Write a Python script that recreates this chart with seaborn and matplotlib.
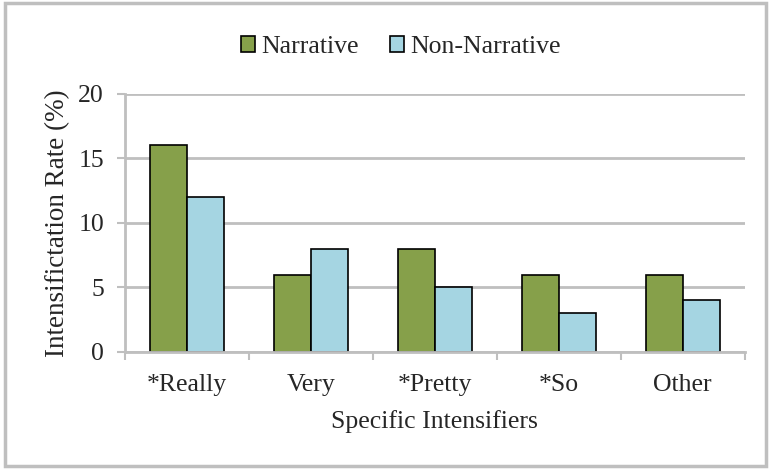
import matplotlib
matplotlib.use("Agg")
import matplotlib.pyplot as plt
from matplotlib.patches import Patch, Rectangle
import seaborn as sns
import pandas as pd
import numpy as np

categories = ["*Really", "Very", "*Pretty", "*So", "Other"]
narrative = [16, 6, 8, 6, 6]
non_narrative = [12, 8, 5, 3, 4]
series_names = ["Narrative", "Non-Narrative"]
y_ticks = [0, 5, 10, 15, 20]

df = pd.DataFrame({
    "cat": categories * 2,
    "val": narrative + non_narrative,
    "series": [series_names[0]] * len(categories) + [series_names[1]] * len(categories),
})

sns.set_style("white")
plt.rcParams["font.family"] = ["Liberation Serif", "DejaVu Serif"]

green = "#86A04A"
blue = "#A5D5E2"
grid_c = "#BFBFBF"
text_c = "#262626"
fs = 18.5

fig = plt.figure(figsize=(7.71, 4.69), dpi=100)
ax = fig.add_axes([0.162, 0.2495, 0.804, 0.5505])

sns.barplot(data=df, x="cat", y="val", hue="series", order=categories,
            hue_order=series_names, palette=[green, blue], width=0.6, gap=0,
            edgecolor="black", linewidth=1.2, saturation=1, ax=ax, legend=False)

ax.set_ylim(0, 20)
ax.set_xlim(-0.5, len(categories) - 0.5)
ax.set_yticks(y_ticks)
ax.set_yticklabels([str(t) for t in y_ticks], fontsize=fs, color=text_c)
ax.yaxis.grid(True, color=grid_c, linewidth=2)
ax.set_axisbelow(True)
for s in ["top", "right"]:
    ax.spines[s].set_visible(False)
for s in ["left", "bottom"]:
    ax.spines[s].set_color(grid_c)
    ax.spines[s].set_linewidth(2)
ax.tick_params(axis="y", length=6, width=1.5, color=grid_c, pad=9, left=True)
ax.set_xticks(range(len(categories)))
ax.set_xticklabels(categories, fontsize=fs, color=text_c)
ax.tick_params(axis="x", which="major", length=0, pad=16)
ax.set_xticks(np.arange(-0.5, len(categories), 1.0), minor=True)
ax.tick_params(axis="x", which="minor", length=6, width=1.5, color=grid_c, bottom=True)

ax.set_xlabel("Specific Intensifiers", fontsize=fs, color=text_c, labelpad=10)
ax.set_ylabel("Intensifictation Rate (%)", fontsize=19.5, color=text_c, labelpad=6)

handles = [Patch(facecolor=green, edgecolor="black", linewidth=1.2),
           Patch(facecolor=blue, edgecolor="black", linewidth=1.2)]
leg = fig.legend(handles, series_names, loc="center", bbox_to_anchor=(0.52, 0.9),
                 ncol=2, frameon=False, fontsize=fs, handlelength=0.55, handleheight=0.55,
                 handletextpad=0.25, columnspacing=1.2, labelcolor=text_c)

fig.patches.append(Rectangle((0.007, 0.007), 0.986, 0.986, transform=fig.transFigure,
                             fill=False, edgecolor="#BFBFBF", linewidth=2.5))

fig.savefig("out.png", dpi=100)
